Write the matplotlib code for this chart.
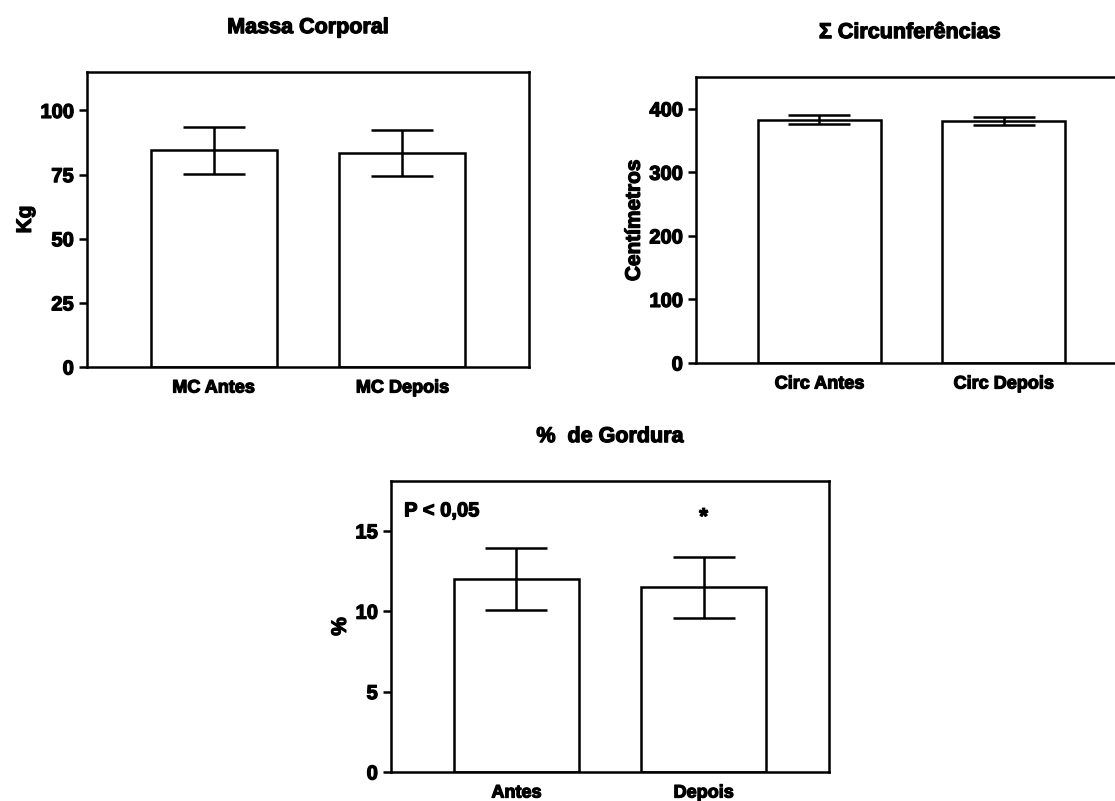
import numpy as np
import matplotlib.pyplot as plt
import matplotlib.patheffects as pe

plt.rcParams['font.family'] = ['Liberation Sans', 'DejaVu Sans']
plt.rcParams['font.weight'] = 'bold'

# dados
mc_labels = ["MC Antes", "MC Depois"]
mc_media = [84.5, 83.4]
mc_erro = [9.1, 9.0]

circ_labels = ["Circ Antes", "Circ Depois"]
circ_media = [382.7, 380.7]
circ_erro = [7.3, 5.7]

gord_labels = ["Antes", "Depois"]
gord_media = [12.0, 11.5]
gord_erro = [1.95, 1.9]

grosso = [pe.withStroke(linewidth=0.9, foreground="black")]


def painel(ax, labels, media, erro, ylim, yticks, titulo, ylabel, tx=0.5):
    x = np.arange(len(labels))
    ax.bar(x, media, width=0.667, color="white", edgecolor="black", linewidth=1.8)
    ax.errorbar(x, media, yerr=erro, fmt="none", ecolor="black",
                elinewidth=1.8, capsize=22.5, capthick=1.8)
    ax.set_xlim(-0.67, 1.67)
    ax.set_ylim(*ylim)
    ax.set_yticks(yticks)
    ax.set_xticks(x)
    ax.set_xticklabels(labels, fontsize=13, fontweight="bold")
    ax.tick_params(axis="y", labelsize=14.5, width=1.8, length=6)
    ax.tick_params(axis="x", length=0, pad=9)
    for lab in ax.get_yticklabels() + ax.get_xticklabels():
        lab.set_fontweight("bold")
        lab.set_path_effects(grosso)
    for s in ax.spines.values():
        s.set_linewidth(1.8)
    yl = ax.set_ylabel(ylabel, fontsize=15, fontweight="bold")
    yl.set_path_effects(grosso)
    t = ax.set_title(titulo, fontsize=15.5, fontweight="bold", pad=28, x=tx)
    t.set_path_effects(grosso)


fig = plt.figure(figsize=(11.15, 8.01), dpi=100)

ax1 = fig.add_axes([87 / 1115, 1 - 367 / 801, 442 / 1115, 295 / 801])
painel(ax1, mc_labels, mc_media, mc_erro, (0, 115), [0, 25, 50, 75, 100],
       "Massa Corporal", "Kg")

ax2 = fig.add_axes([696 / 1115, 1 - 363 / 801, 431 / 1115, 286 / 801])
painel(ax2, circ_labels, circ_media, circ_erro, (0, 450), [0, 100, 200, 300, 400],
       "Σ Circunferências", "Centímetros", tx=(910 - 696) / 431)

ax3 = fig.add_axes([391 / 1115, 1 - 772 / 801, 438 / 1115, 291 / 801])
painel(ax3, gord_labels, gord_media, gord_erro, (0, 18.1), [0, 5, 10, 15],
       "%  de Gordura", "%")
ax3.text(0.03, 0.93, "P < 0,05", transform=ax3.transAxes, fontsize=14.5,
         fontweight="bold", ha="left", va="top", path_effects=grosso)
ax3.text(1, gord_media[1] + gord_erro[1] + 2.4, "*", fontsize=16,
         fontweight="bold", ha="center", va="center", path_effects=grosso)

fig.savefig("out.png", dpi=100)
